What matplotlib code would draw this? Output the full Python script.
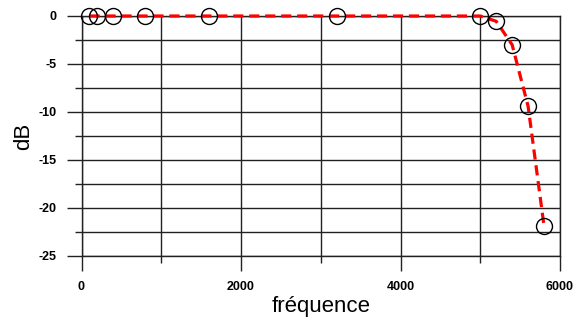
import matplotlib
matplotlib.use("Agg")
import matplotlib.pyplot as plt
from matplotlib.ticker import MultipleLocator

freq = [100, 200, 400, 800, 1600, 3200, 5000, 5200, 5400, 5600, 5800]
gain_db = [0, 0, 0, 0, 0, 0, 0, -0.55, -3.0, -9.4, -21.9]
x_ticks = [0, 2000, 4000, 6000]
y_ticks = [0, -5, -10, -15, -20, -25]

plt.rcParams['font.family'] = ['Liberation Sans', 'DejaVu Sans']
plt.rcParams['axes.unicode_minus'] = False
fig = plt.figure(figsize=(5.77, 3.20), dpi=100)
ax = fig.add_axes([81.5/577, 1-256/320, (560-81.5)/577, (256-16)/320])

ax.set_xlim(0, 6000)
ax.set_ylim(-25, 0)
ax.set_xticks(x_ticks)
ax.set_yticks(y_ticks)
ax.xaxis.set_minor_locator(MultipleLocator(1000))
ax.yaxis.set_minor_locator(MultipleLocator(2.5))
ax.grid(True, which='both', color='#222222', linewidth=1.0)
for s in ax.spines.values():
    s.set_color('#222222')
    s.set_linewidth(1.0)
ax.tick_params(which='major', length=11, width=1.0, color='#222222', pad=7,
               labelsize=9)
ax.tick_params(which='minor', length=5.2, width=1.0, color='#222222')
for lab in ax.get_xticklabels() + ax.get_yticklabels():
    lab.set_fontweight('bold')

ax.plot(freq, gain_db, linestyle=(0, (3.2, 1.8)), color='#ff0000', linewidth=2.3,
        zorder=3, clip_on=False)
ax.plot(freq, gain_db, linestyle='none', marker='o', markersize=11.5,
        markerfacecolor='none', markeredgecolor='black', markeredgewidth=1.0,
        zorder=4, clip_on=False)

ax.set_xlabel('fréquence', fontsize=16, labelpad=2)
ax.set_ylabel('dB', fontsize=16, labelpad=3)

fig.savefig('out.png', dpi=100)
